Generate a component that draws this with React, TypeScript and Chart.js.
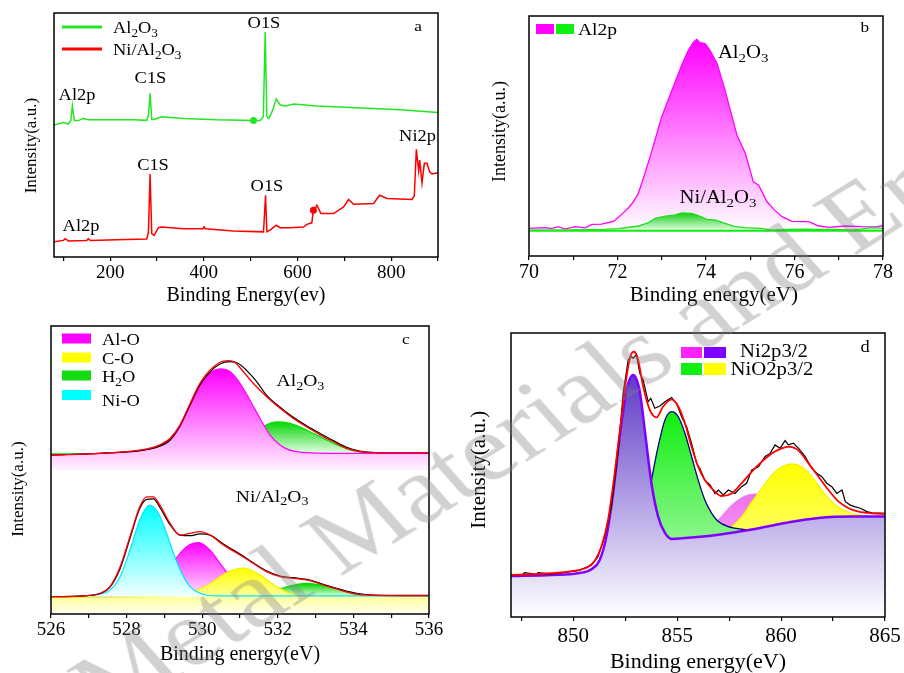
import React, { useEffect, useRef } from "react";
import { Chart, registerables } from "chart.js";

Chart.register(...registerables);

const SERIF = '"Liberation Serif", "Times New Roman", Times, serif';

// ---------------- Panel a : survey spectra ----------------
const aTickValues = [100, 200, 300, 400, 500, 600, 700, 800, 900];
const aTickLabels = [200, 400, 600, 800];
const aAl2O3X = [80, 100, 110.6, 116, 119.2, 123.5, 132, 142.7, 153, 178, 249.6, 278, 281.6, 285.2, 288.7, 293.7, 310, 356.4, 427.7, 506, 520, 527, 531, 534.5, 538.8, 547.3, 554.5, 563, 573.7, 591.5, 641.4, 748.2, 819.5, 900];
const aAl2O3Y = [54.1, 55.1, 54.5, 56, 61.9, 55.9, 55.9, 56.8, 56.2, 56.2, 56.2, 56, 58, 67.1, 56.4, 56.4, 57.5, 56.8, 56.2, 55.9, 55.9, 57.5, 92.2, 57.5, 56.8, 60.3, 64.8, 62.3, 61.9, 62.7, 61.9, 61, 60.3, 59.2];
const aNiX = [80, 100, 104, 110.6, 150, 153, 158, 214, 278, 281.6, 285.2, 288.7, 293.7, 303, 310, 356.4, 398, 400.6, 403, 463.3, 527.4, 531.7, 534.5, 541.6, 554.5, 563, 584.4, 612.9, 620, 630.7, 632.8, 641.4, 650, 655.6, 677, 698.4, 709, 719.7, 762.5, 775.3, 791, 844.4, 849.4, 853.7, 858.7, 860.9, 865.8, 870.8, 876.5, 882.2, 887.1, 900];
const aNiY = [6.2, 6.8, 7.5, 6.6, 6.8, 7.5, 6.8, 7.1, 7.4, 10, 34, 9.6, 8.9, 12, 12.3, 11.6, 11.6, 12.4, 11.6, 10.7, 10.3, 25.3, 10.3, 11, 13, 12, 12, 12.3, 13.4, 14, 17.8, 21.2, 17.8, 17.8, 17.8, 20.5, 23.6, 21.6, 21.9, 25.3, 24, 23.6, 25, 44.1, 35.3, 39.7, 30.4, 38.4, 38.4, 34.9, 34, 34.5];
const aDotGreenX = [506];
const aDotGreenY = [55.9];
const aDotRedX = [634];
const aDotRedY = [19.2];

// ---------------- Panel b : Al2p ----------------
const bTickValues = [70, 71, 72, 73, 74, 75, 76, 77, 78];
const bTickLabels = [70, 72, 74, 76, 78];
const bAl2O3X = [70, 70.36, 70.51, 70.66, 70.81, 71.04, 71.27, 71.42, 71.64, 71.91, 72.02, 72.25, 72.36, 72.47, 72.62, 72.77, 73.0, 73.23, 73.45, 73.6, 73.72, 73.79, 73.87, 73.98, 74.09, 74.25, 74.43, 74.55, 74.7, 74.89, 75.07, 75.19, 75.38, 75.56, 75.72, 75.94, 76.32, 76.55, 76.77, 77.15, 77.53, 77.83, 78];
const bAl2O3Y = [11.5, 11.8, 11.4, 12.2, 11.2, 12.2, 11.7, 13.2, 13.3, 14.4, 16.1, 20.1, 22.6, 26.1, 34.4, 43.4, 58.0, 69.1, 79.5, 85.7, 89.2, 90.3, 88.9, 88.5, 85.7, 80.2, 69.1, 60.7, 50.3, 42.7, 30.9, 29.5, 22.6, 18.9, 16.4, 14.4, 14.3, 12.5, 11.9, 12.5, 12.2, 12.1, 12.6];
const bNiX = [70, 70.66, 71.27, 71.72, 72.02, 72.47, 72.7, 72.85, 73.08, 73.3, 73.45, 73.68, 73.83, 74.02, 74.2, 74.43, 74.66, 74.89, 75.26, 75.49, 75.79, 76.17, 76.55, 76.92, 77.3, 77.75, 78];
const bNiY = [10.8, 10.8, 11, 11.1, 11.4, 12.5, 13.9, 15.7, 16.6, 17.1, 18.0, 17.8, 16.8, 15.3, 15.0, 13.6, 12.2, 11.8, 11.5, 10.8, 11.1, 11.2, 11.1, 11.1, 10.8, 11.8, 11.5];
const bBaseX = [70, 78];
const bBaseY = [10.5, 10.5];

// ---------------- Panel c : O1s ----------------
const cTickValues = [526, 527, 528, 529, 530, 531, 532, 533, 534, 535, 536];
const cTickLabels = [526, 528, 530, 532, 534, 536];
const cTopAlOX = [526, 527.3, 528.35, 528.8, 529.15, 529.41, 529.68, 529.94, 530.21, 530.51, 530.74, 531.0, 531.26, 531.53, 531.79, 532.06, 532.32, 532.76, 533.47, 536];
const cTopAlOY = [55.2, 55.8, 56.7, 58.1, 60.4, 65.0, 72.6, 79.5, 83.8, 85.1, 84.1, 80.1, 74.3, 67.9, 62.2, 58.7, 56.9, 56.0, 55.8, 55.8];
const cTopH2OX = [526, 529.94, 530.82, 531.35, 531.7, 531.97, 532.32, 532.76, 533.2, 533.65, 534.0, 534.35, 536];
const cTopH2OY = [55.6, 55.8, 57.5, 62.0, 65.7, 66.7, 66.2, 63.9, 61.0, 58.3, 56.7, 56.0, 55.8];
const cTopFitX = [526, 527.3, 528.35, 528.8, 529.15, 529.41, 529.68, 529.94, 530.21, 530.47, 530.69, 530.87, 531.09, 531.35, 531.7, 532.06, 532.41, 532.76, 533.12, 533.47, 533.82, 534.17, 534.79, 536];
const cTopFitY = [55.2, 55.8, 56.9, 58.3, 61.0, 65.6, 73.1, 80.1, 84.7, 87.4, 88.0, 87.3, 84.1, 80.1, 75.5, 71.4, 67.9, 65.0, 62.2, 59.8, 57.5, 56.4, 56.0, 56.0];
const cTopRawX = [526, 527.3, 528.35, 528.8, 529.15, 529.41, 529.68, 529.94, 530.21, 530.47, 530.74, 530.96, 531.18, 531.44, 531.7, 532.06, 532.41, 532.76, 533.12, 533.47, 533.82, 534.17, 534.79, 536];
const cTopRawY = [55.2, 55.8, 56.7, 57.9, 60.4, 65.3, 72.6, 79.5, 84.1, 86.8, 87.6, 87.0, 84.5, 80.7, 76.0, 71.8, 68.3, 65.4, 62.7, 60.2, 57.9, 56.6, 56.0, 56.0];
const cNiOX = [526, 526.86, 527.3, 527.56, 527.83, 528.09, 528.35, 528.6, 528.84, 529.06, 529.24, 529.46, 529.68, 529.94, 530.38, 536];
const cNiOY = [6.0, 6.3, 6.9, 8.3, 13.0, 22.2, 32.6, 37.8, 35.0, 28.0, 21.1, 14.1, 9.5, 7.2, 6.3, 6.3];
const cAlOX = [526, 528.18, 528.8, 529.28, 529.59, 529.9, 530.21, 530.47, 530.74, 531.0, 531.35, 531.7, 536];
const cAlOY = [6.0, 6.3, 9.5, 18.8, 23.4, 24.8, 22.2, 17.6, 13.0, 9.5, 6.9, 6.3, 6.3];
const cCOX = [526, 528.62, 529.32, 529.77, 530.21, 530.65, 531.09, 531.53, 531.97, 532.32, 532.76, 536];
const cCOY = [5.8, 6.0, 6.5, 7.8, 10.6, 14.4, 15.9, 13.5, 9.5, 7.2, 6.3, 6.3];
const cH2OX = [526, 531.26, 531.7, 532.15, 532.76, 533.29, 533.82, 534.35, 536];
const cH2OY = [6.0, 6.3, 7.2, 9.1, 10.6, 9.7, 7.8, 6.5, 6.3];
const cNiFitX = [526, 526.86, 527.3, 527.56, 527.83, 528.09, 528.35, 528.53, 528.71, 528.88, 529.15, 529.41, 529.68, 529.94, 530.21, 530.56, 531.0, 531.35, 531.7, 532.06, 532.41, 532.85, 533.2, 533.65, 534.09, 534.53, 536];
const cNiFitY = [6.0, 6.3, 7.2, 9.5, 16.4, 26.9, 37.3, 40.7, 40.7, 37.8, 31.5, 27.4, 28.0, 28.6, 27.4, 24.0, 20.5, 17.6, 14.7, 13.0, 12.4, 11.6, 10.1, 8.3, 6.9, 6.5, 6.3];
const cNiRawY = [6.0, 6.3, 7.1, 9.3, 15.8, 26.3, 36.7, 39.8, 40.0, 37.0, 31.0, 27.4, 27.2, 27.8, 27.4, 24.3, 20.8, 17.8, 15.0, 13.2, 12.6, 11.8, 10.3, 8.6, 7.2, 6.6, 6.5];

// ---------------- Panel d : Ni2p ----------------
const dTickValues = [847.5, 850, 852.5, 855, 857.5, 860, 862.5, 865];
const dTickLabels = [850, 855, 860, 865];
const dBgX = [847, 848.94, 850.23, 850.87, 851.27, 851.59, 851.91, 852.23, 852.56, 852.88, 853.2, 853.44, 853.76, 854.08, 854.41, 854.73, 855.37, 856.98, 858.59, 860.19, 861.8, 863.41, 865];
const dBgY = [14.4, 14.8, 15.4, 16.8, 20.1, 28.3, 43.5, 63.4, 79.8, 85.2, 79.3, 65.7, 47.1, 35.4, 29.6, 27.5, 27.8, 29.0, 30.8, 33.1, 34.9, 35.4, 35.4];
const dNiOX = [853.12, 853.44, 853.76, 854.08, 854.41, 854.73, 855.05, 855.37, 855.69, 856.01, 856.33, 856.66, 856.98, 857.46, 858.1, 858.59, 860.19];
const dNiOY = [28.3, 35.3, 48.2, 60.0, 69.4, 72.3, 70.5, 64.7, 56.5, 48.2, 41.2, 36.5, 33.6, 31.8, 30.9, 30.6, 32.7];
const dSatAX = [855.37, 856.33, 856.98, 857.62, 858.26, 858.75, 859.23, 859.87, 860.51, 861.16, 861.8];
const dSatAY = [28.1, 30.0, 34.2, 39.4, 42.6, 43.3, 42.4, 38.3, 34.2, 33.6, 34.6];
const dSatBX = [856.98, 857.62, 858.1, 858.59, 859.07, 859.55, 860.03, 860.51, 861.0, 861.48, 861.96, 862.44, 862.93, 863.41, 864.05, 865];
const dSatBY = [29.5, 31.8, 35.3, 40.6, 45.3, 50.0, 52.9, 53.9, 52.9, 49.4, 44.7, 40.6, 37.9, 36.5, 35.7, 35.3];
const dFitX = [847, 848.94, 850.23, 850.71, 851.03, 851.35, 851.67, 851.99, 852.32, 852.56, 852.8, 852.93, 853.12, 853.36, 853.68, 854.0, 854.32, 854.73, 855.05, 855.37, 855.69, 856.01, 856.33, 856.74, 857.14, 857.62, 858.1, 858.59, 859.07, 859.55, 860.03, 860.35, 860.84, 861.32, 861.8, 862.28, 862.77, 863.25, 863.73, 864.37, 865];
const dFitY = [14.8, 15.4, 16.5, 17.6, 19.8, 24.8, 34.2, 50.6, 70.5, 84.6, 92.8, 93.4, 90.5, 81.1, 72.9, 70.3, 74.1, 76.6, 74.1, 68.2, 60.0, 52.9, 48.2, 44.7, 42.6, 43.5, 47.1, 51.2, 54.7, 57.6, 59.4, 60.0, 58.6, 54.1, 49.4, 44.7, 40.6, 38.3, 37.1, 36.5, 36.3];
const dRawX = [847, 847.57, 847.65, 848.22, 848.3, 848.94, 850.23, 850.87, 851.19, 851.51, 851.83, 852.15, 852.4, 852.64, 852.77, 852.88, 853.04, 853.2, 853.36, 853.6, 853.73, 853.92, 854.16, 854.41, 854.73, 854.97, 855.21, 855.45, 855.69, 855.93, 856.09, 856.33, 856.58, 856.82, 856.98, 857.22, 857.46, 857.78, 858.1, 858.34, 858.59, 858.91, 859.23, 859.47, 859.71, 859.95, 860.19, 860.35, 860.59, 860.84, 861.16, 861.48, 861.72, 861.96, 862.2, 862.44, 862.68, 862.93, 863.09, 863.33, 863.57, 863.81, 864.13, 864.37, 865];
const dRawY = [14.8, 15.0, 15.6, 15.0, 15.6, 15.1, 16.3, 18.3, 21.2, 28.3, 38.8, 57.6, 78.8, 90.5, 91.7, 91.1, 92.3, 85.8, 83.5, 75.8, 77.0, 73.5, 74.3, 75.8, 77.3, 75.2, 70.5, 67.0, 61.2, 54.1, 52.3, 48.2, 46.5, 43.5, 44.7, 43.0, 44.7, 43.5, 45.9, 47.1, 51.8, 52.9, 56.5, 57.6, 60.6, 59.4, 62.1, 60.6, 61.2, 59.4, 56.5, 52.3, 50.6, 49.4, 47.1, 45.9, 43.5, 44.7, 40.6, 39.4, 38.8, 38.3, 37.1, 36.7, 36.5];

// ---------------- helpers ----------------
const xy = (xs: number[], ys: number[]) => xs.map((x, i) => ({ x, y: ys[i] }));

function gradFill(top: number, bottom: number, c1: string, c2: string) {
  return (ctx: any) => {
    const chart = ctx.chart;
    const ys = chart.scales && chart.scales.y;
    if (!chart.chartArea || !ys) return c2;
    const g = chart.ctx.createLinearGradient(0, ys.getPixelForValue(top), 0, ys.getPixelForValue(bottom));
    g.addColorStop(0, c1);
    g.addColorStop(1, c2);
    return g;
  };
}

function lineDs(data: any[], color: string, width: number, extra: any = {}) {
  return { data, borderColor: color, borderWidth: width, pointRadius: 0, fill: false, tension: 0, ...extra };
}

function areaDs(data: any[], color: string, width: number, fillTo: number, top: number, c1: string, c2: string, extra: any = {}) {
  return {
    data,
    borderColor: color,
    borderWidth: width,
    pointRadius: 0,
    cubicInterpolationMode: "monotone",
    fill: { value: fillTo },
    backgroundColor: gradFill(top, fillTo, c1, c2),
    ...extra,
  };
}

function drawRich(ctx: CanvasRenderingContext2D, text: string, x: number, y: number, size: number, align: string, color = "#000", sx = 1.15) {
  const segs: { t: string; sub: boolean }[] = [];
  for (let i = 0; i < text.length; i++) {
    if (text[i] === "_" && i + 1 < text.length) {
      segs.push({ t: text[i + 1], sub: true });
      i++;
    } else {
      const last = segs[segs.length - 1];
      if (last && !last.sub) last.t += text[i];
      else segs.push({ t: text[i], sub: false });
    }
  }
  const font = (sub: boolean) => `${sub ? size * 0.72 : size}px ${SERIF}`;
  let total = 0;
  const widths = segs.map((s) => {
    ctx.font = font(s.sub);
    const w = ctx.measureText(s.t).width;
    total += w;
    return w;
  });
  ctx.save();
  ctx.translate(x, y);
  ctx.scale(sx, 1);
  ctx.fillStyle = color;
  ctx.textBaseline = "alphabetic";
  ctx.textAlign = "left";
  let cx = align === "center" ? -total / 2 : 0;
  segs.forEach((s, i) => {
    ctx.font = font(s.sub);
    ctx.fillText(s.t, cx, s.sub ? size * 0.22 : 0);
    cx += widths[i];
  });
  ctx.restore();
}

type TextItem = { text: string; x: number; y: number; size: number; align?: string };

interface PanelSpec {
  box: [number, number, number, number];
  xMin: number;
  xMax: number;
  ticks: number[];
  tickLabels: number[];
  tickSize: number;
  tickPad: number;
  xTitle: string;
  xTitleSize: number;
  xTitleY: number;
  yTitle: string;
  yTitleSize: number;
  yTitleX: number;
  padRight: number;
  datasets: any[];
  texts: TextItem[];
  legend: (ctx: CanvasRenderingContext2D, a: any) => void;
}

const PT = 10;

const panelA: PanelSpec = {
  box: [54, 13, 438, 257],
  xMin: 80,
  xMax: 900,
  ticks: aTickValues,
  tickLabels: aTickLabels,
  tickSize: 19,
  tickPad: 1,
  xTitle: "Binding Energy(ev)",
  xTitleSize: 20,
  xTitleY: 296,
  yTitle: "Intensity(a.u.)     ",
  yTitleSize: 17,
  yTitleX: 31.5,
  padRight: 22,
  datasets: [
    lineDs(xy(aNiX, aNiY), "#ff0000", 1.5),
    lineDs(xy(aAl2O3X, aAl2O3Y), "#22e622", 1.5),
    { data: xy(aDotGreenX, aDotGreenY), showLine: false, pointRadius: 3.5, pointBackgroundColor: "#22e622", pointBorderWidth: 0 },
    { data: xy(aDotRedX, aDotRedY), showLine: false, pointRadius: 3.5, pointBackgroundColor: "#ff0000", pointBorderWidth: 0 },
  ],
  texts: [
    { text: "Al2p", x: 129.1, y: 66.4, size: 16 },
    { text: "C1S", x: 286, y: 73.4, size: 16 },
    { text: "O1S", x: 528.4, y: 95.9, size: 16 },
    { text: "Ni2p", x: 856.2, y: 49.6, size: 16 },
    { text: "C1S", x: 291.4, y: 37.7, size: 16 },
    { text: "O1S", x: 534.8, y: 29.3, size: 16 },
    { text: "Al2p", x: 137.7, y: 12.7, size: 16 },
    { text: "a", x: 857.3, y: 94.7, size: 15 },
  ],
  legend: (ctx, a) => {
    ctx.lineWidth = 3;
    ctx.strokeStyle = "#22e622";
    ctx.beginPath();
    ctx.moveTo(a.left + 8, a.top + 14);
    ctx.lineTo(a.left + 48, a.top + 14);
    ctx.stroke();
    ctx.strokeStyle = "#ff0000";
    ctx.beginPath();
    ctx.moveTo(a.left + 8, a.top + 36);
    ctx.lineTo(a.left + 48, a.top + 36);
    ctx.stroke();
    drawRich(ctx, "Al_2O_3", a.left + 59, a.top + 20, 16, "left");
    drawRich(ctx, "Ni/Al_2O_3", a.left + 59, a.top + 42, 16, "left");
  },
};

const panelB: PanelSpec = {
  box: [529, 16, 883, 256],
  xMin: 70,
  xMax: 78,
  ticks: bTickValues,
  tickLabels: bTickLabels,
  tickSize: 20,
  tickPad: 1,
  xTitle: "   Binding energy(eV)",
  xTitleSize: 21,
  xTitleY: 295,
  yTitle: "  Intensity(a.u.)",
  yTitleSize: 18,
  yTitleX: 500,
  padRight: 19,
  datasets: [
    areaDs(xy(bAl2O3X, bAl2O3Y), "#ff00ff", 1.3, 10.5, 90, "#ff00ff", "#ffffff", { cubicInterpolationMode: "default", tension: 0 }),
    areaDs(xy(bNiX, bNiY), "#22dd22", 1.3, 10.5, 18, "#11cc11", "#eeffee", { cubicInterpolationMode: "default", tension: 0 }),
    lineDs(xy(bBaseX, bBaseY), "#11ee11", 2),
  ],
  texts: [
    { text: "Al_2O_3", x: 74.84, y: 85, size: 18 },
    { text: "Ni/Al_2O_3", x: 74.27, y: 24.6, size: 18 },
    { text: "b", x: 77.59, y: 95.4, size: 15 },
  ],
  legend: (ctx, a) => {
    ctx.fillStyle = "#ff00ff";
    ctx.fillRect(a.left + 7, a.top + 8, 18, 10);
    ctx.fillStyle = "#11ee11";
    ctx.fillRect(a.left + 27, a.top + 8, 18, 10);
    drawRich(ctx, "Al2p", a.left + 49, a.top + 18.5, 17, "left");
  },
};

const panelC: PanelSpec = {
  box: [51, 326, 429, 614],
  xMin: 526,
  xMax: 536,
  ticks: cTickValues,
  tickLabels: cTickLabels,
  tickSize: 19,
  tickPad: 0.6,
  xTitle: "Binding energy(eV)",
  xTitleSize: 20,
  xTitleY: 655,
  yTitle: "Intensity(a.u.)         ",
  yTitleSize: 17,
  yTitleX: 18,
  padRight: 22,
  datasets: [
    areaDs(xy(cTopH2OX, cTopH2OY), "#00e000", 1.2, 55.5, 67, "#00d400", "#eaffea"),
    areaDs(xy(cTopAlOX, cTopAlOY), "#ff00ff", 1.2, 50, 85, "#ff00ff", "#fff2ff"),
    lineDs(xy(cTopRawX, cTopRawY), "#000000", 1.2, { cubicInterpolationMode: "monotone" }),
    lineDs(xy(cTopFitX, cTopFitY), "#ff0000", 1.3, { cubicInterpolationMode: "monotone" }),
    areaDs(xy(cH2OX, cH2OY), "#00e000", 1.2, 6, 10.6, "#00d400", "#e4ffe4"),
    areaDs(xy(cAlOX, cAlOY), "#ff00ff", 1.2, 6, 24.8, "#ff00ff", "#ffe8ff"),
    areaDs(xy(cCOX, cCOY), "#f2f200", 1.2, 0, 15.9, "#ffff00", "#fffff4"),
    areaDs(xy(cNiOX, cNiOY), "#00e5ff", 1.2, 6, 37.8, "#00ffff", "#f2ffff"),
    lineDs(xy(cNiFitX, cNiRawY), "#000000", 1.2, { cubicInterpolationMode: "monotone" }),
    lineDs(xy(cNiFitX, cNiFitY), "#ff0000", 1.3, { cubicInterpolationMode: "monotone" }),
  ],
  texts: [
    { text: "Al_2O_3", x: 532.6, y: 81.1, size: 17 },
    { text: "Ni/Al_2O_3", x: 531.85, y: 41, size: 17 },
    { text: "c", x: 535.39, y: 95.5, size: 15 },
  ],
  legend: (ctx, a) => {
    const rows: [string, string, number, number][] = [
      ["Al-O", "#ff00ff", 7.5, 18.5],
      ["C-O", "#ffff00", 26.5, 37.5],
      ["H_2O", "#11dd11", 44.5, 56],
      ["Ni-O", "#00ffff", 64, 79.5],
    ];
    rows.forEach(([t, c, by, ty]) => {
      ctx.fillStyle = c;
      ctx.fillRect(a.left + 11, a.top + by, 29, 10);
      drawRich(ctx, t, a.left + 51, a.top + ty, 16, "left");
    });
  },
};

const panelD: PanelSpec = {
  box: [511, 333, 885, 617],
  xMin: 847,
  xMax: 865,
  ticks: dTickValues,
  tickLabels: dTickLabels,
  tickSize: 21,
  tickPad: 3,
  xTitle: "Binding energy(eV)",
  xTitleSize: 22,
  xTitleY: 662,
  yTitle: "  Intensity(a.u.)",
  yTitleSize: 21,
  yTitleX: 480,
  padRight: 19,
  datasets: [
    areaDs(xy(dSatAX, dSatAY), "#f07cf0", 1, 0, 43.3, "#f070f0", "#ffd4ff"),
    areaDs(xy(dSatBX, dSatBY), "#f4f400", 1.2, 0, 54, "#ffff00", "#ffffcc"),
    areaDs(xy(dNiOX, dNiOY), "#000080", 1.3, 0, 72.3, "#11ee11", "#d6fbd6"),
    areaDs(xy(dBgX, dBgY), "#7f00ff", 2.5, 0, 85, "#5f3bc8", "#ffffff"),
    lineDs(xy(dRawX, dRawY), "#000000", 1.2),
    lineDs(xy(dFitX, dFitY), "#ff0000", 1.8, { cubicInterpolationMode: "monotone" }),
  ],
  texts: [{ text: "d", x: 864.04, y: 95.1, size: 16 }],
  legend: (ctx, a) => {
    ctx.fillStyle = "#ff22ff";
    ctx.fillRect(a.left + 170, a.top + 14, 21, 11);
    ctx.fillStyle = "#7f00ff";
    ctx.fillRect(a.left + 193, a.top + 14, 22, 11);
    ctx.fillStyle = "#11ee11";
    ctx.fillRect(a.left + 170, a.top + 30, 21, 12);
    ctx.fillStyle = "#ffff00";
    ctx.fillRect(a.left + 193, a.top + 30, 22, 12);
    drawRich(ctx, "Ni2p3/2", a.left + 263, a.top + 24, 18, "center");
    drawRich(ctx, "NiO2p3/2", a.left + 261, a.top + 42, 18, "center");
  },
};

const SPECS = [panelA, panelB, panelC, panelD];

function geometry(s: PanelSpec) {
  const [L, T, R, B] = s.box;
  const left = Math.round(L - (L - s.yTitleX + 0.6 * s.yTitleSize));
  const yW = L - left;
  const top = T - PT;
  const xH = Math.round(s.xTitleY - B + 0.6 * s.xTitleSize);
  const w = R - left + s.padRight;
  const h = B - top + xH;
  return { left, top, yW, xH, w, h };
}

function Panel({ spec }: { spec: PanelSpec }) {
  const ref = useRef<HTMLCanvasElement>(null);
  const g = geometry(spec);
  useEffect(() => {
    const canvas = ref.current;
    if (!canvas) return;
    const datasets = spec.datasets.map((d, i) => ({ ...d, order: -i }));
    const chart = new Chart(canvas, {
      type: "line",
      data: { datasets },
      options: {
        responsive: false,
        animation: false,
        maintainAspectRatio: false,
        devicePixelRatio: 1,
        layout: { autoPadding: false, padding: { top: PT, right: spec.padRight, left: 0, bottom: 0 } },
        plugins: { legend: { display: false }, tooltip: { enabled: false } },
        elements: { point: { radius: 0 } },
        scales: {
          x: {
            type: "linear",
            min: spec.xMin,
            max: spec.xMax,
            afterBuildTicks: (sc: any) => {
              sc.ticks = spec.ticks.map((v) => ({ value: v }));
            },
            afterFit: (sc: any) => {
              sc.height = g.xH;
              sc.paddingLeft = 0;
              sc.paddingRight = 0;
            },
            ticks: {
              autoSkip: false,
              maxRotation: 0,
              minRotation: 0,
              padding: spec.tickPad,
              color: "#000",
              font: { family: SERIF, size: spec.tickSize },
              callback: (v: any) => (spec.tickLabels.includes(Number(v)) ? String(v) : ""),
            },
            grid: { display: true, drawOnChartArea: false, drawTicks: true, tickLength: 4, color: "#000", lineWidth: 1.2 },
            border: { display: false },
            title: { display: true, text: spec.xTitle, color: "#000", padding: 0, font: { family: SERIF, size: spec.xTitleSize } },
          },
          y: {
            type: "linear",
            min: 0,
            max: 100,
            afterFit: (sc: any) => {
              sc.width = g.yW;
            },
            ticks: { display: false },
            grid: { display: false },
            border: { display: false },
            title: { display: true, text: spec.yTitle, color: "#000", padding: 0, font: { family: SERIF, size: spec.yTitleSize } },
          },
        },
      },
      plugins: [
        {
          id: "deco",
          afterDraw(chart: any) {
            const { ctx, chartArea: a } = chart;
            const xs = chart.scales.x;
            const ys = chart.scales.y;
            ctx.save();
            for (const t of spec.texts) {
              const px = xs.getPixelForValue(t.x);
              const py = ys.getPixelForValue(t.y);
              drawRich(ctx, t.text, px, py + t.size * 0.33, t.size, t.align || "center");
            }
            spec.legend(ctx, a);
            ctx.strokeStyle = "#000";
            ctx.lineWidth = 1.5;
            ctx.strokeRect(a.left, a.top, a.right - a.left, a.bottom - a.top);
            ctx.restore();
          },
        },
      ],
    } as any);
    return () => chart.destroy();
  }, []);
  return (
    <canvas
      ref={ref}
      width={g.w}
      height={g.h}
      style={{ position: "absolute", left: g.left, top: g.top, width: g.w, height: g.h }}
    />
  );
}

export default function App() {
  return (
    <div style={{ position: "absolute", left: 0, top: 0, width: 904, height: 673, overflow: "hidden", background: "#fff" }}>
      {SPECS.map((s, i) => (
        <Panel key={i} spec={s} />
      ))}
      <div
        style={{
          position: "absolute",
          left: 52,
          top: 659,
          transformOrigin: "0 0",
          transform: "scale(1.19, 1) rotate(-36.6deg)",
          fontFamily: SERIF,
          fontSize: 94,
          lineHeight: 1,
          whiteSpace: "nowrap",
          color: "rgba(128,128,128,0.36)",
          pointerEvents: "none",
        }}
      >
        Metal Materials and Engineering
      </div>
    </div>
  );
}
